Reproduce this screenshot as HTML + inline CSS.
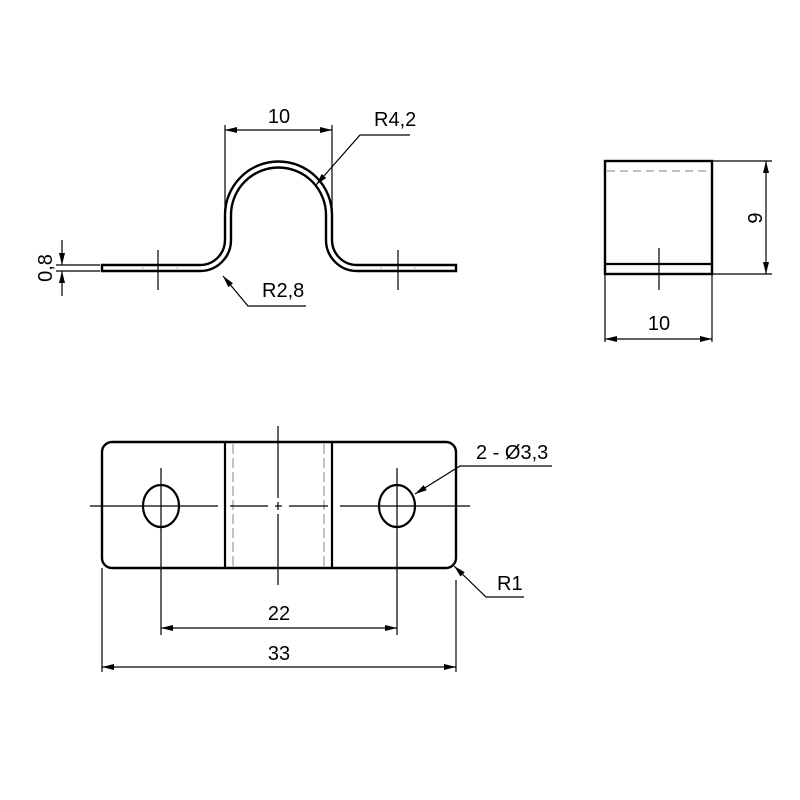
<!DOCTYPE html>
<html><head><style>html,body{margin:0;padding:0;background:#fff}svg{display:block}</style></head>
<body>
<svg width="800" height="800" viewBox="0 0 800 800" xmlns="http://www.w3.org/2000/svg" font-family="Liberation Sans, sans-serif">
<defs>
<marker id="a" viewBox="0 0 12 6" refX="12" refY="3" markerWidth="13" markerHeight="6" markerUnits="userSpaceOnUse" orient="auto-start-reverse"><path d="M0,0 L12,3 L0,6 Z" fill="#000"/></marker>
</defs>
<rect width="800" height="800" fill="#fff"/>
<g fill="none" stroke="#000">
<path stroke-width="2.4" d="M102,265 L200,265 A25,25 0 0 0 225,240 L225,215 A53.5,53.5 0 0 1 332,215 L332,240 A25,25 0 0 0 357,265 L456,265 L456,271 L357,271 A31,31 0 0 1 326,240 L326,215 A47.5,47.5 0 0 0 231,215 L231,240 A31,31 0 0 1 200,271 L102,271 Z"/>
<g stroke-width="1.2">
<line x1="158" y1="250" x2="158" y2="290"/><line x1="398" y1="250" x2="398" y2="290"/>
<line x1="143" y1="266" x2="143" y2="270" stroke="#ccc"/><line x1="177" y1="266" x2="177" y2="270" stroke="#ccc"/>
<line x1="381" y1="266" x2="381" y2="270" stroke="#ccc"/><line x1="415" y1="266" x2="415" y2="270" stroke="#ccc"/>
<line x1="225" y1="125" x2="225" y2="212"/><line x1="332" y1="125" x2="332" y2="212"/>
<line x1="225" y1="130" x2="332" y2="130" marker-start="url(#a)" marker-end="url(#a)"/>
<polyline points="410,135 360,135 316,185" marker-end="url(#a)"/>
<polyline points="306,306 248,306 223,276" marker-end="url(#a)"/>
<line x1="56" y1="265" x2="100" y2="265"/><line x1="56" y1="271" x2="100" y2="271"/>
<line x1="62" y1="240" x2="62" y2="265" marker-end="url(#a)"/>
<line x1="62" y1="296" x2="62" y2="271" marker-end="url(#a)"/>
</g>
<rect x="605" y="161" width="107" height="113" stroke-width="2.4"/>
<line x1="605" y1="264" x2="712" y2="264" stroke-width="2.2"/>
<g stroke-width="1.2">
<line x1="607" y1="171" x2="710" y2="171" stroke="#999" stroke-dasharray="8,5"/>
<line x1="659" y1="248" x2="659" y2="290"/>
<line x1="712" y1="161" x2="772" y2="161"/><line x1="712" y1="274" x2="772" y2="274"/>
<line x1="766" y1="161" x2="766" y2="274" marker-start="url(#a)" marker-end="url(#a)"/>
<line x1="605" y1="274" x2="605" y2="342"/><line x1="712" y1="274" x2="712" y2="342"/>
<line x1="605" y1="339" x2="712" y2="339" marker-start="url(#a)" marker-end="url(#a)"/>
</g>
<rect x="102" y="442" width="354" height="126" rx="10" stroke-width="2.4"/>
<line x1="225" y1="442" x2="225" y2="568" stroke-width="2.2"/>
<line x1="332" y1="442" x2="332" y2="568" stroke-width="2.2"/>
<g stroke-width="1.2">
<line x1="233" y1="444" x2="233" y2="566" stroke="#999" stroke-dasharray="10,4"/>
<line x1="324" y1="444" x2="324" y2="566" stroke="#999" stroke-dasharray="10,4"/>
<line x1="90" y1="506" x2="218" y2="506"/><line x1="340" y1="506" x2="470" y2="506"/>
<line x1="230" y1="506" x2="268" y2="506"/><line x1="275" y1="506" x2="282" y2="506"/><line x1="289" y1="506" x2="328" y2="506"/>
<line x1="278" y1="426" x2="278" y2="498"/><line x1="278" y1="502" x2="278" y2="510"/><line x1="278" y1="514" x2="278" y2="585"/>
<line x1="161" y1="468" x2="161" y2="635"/><line x1="397" y1="468" x2="397" y2="635"/>
<line x1="102" y1="568" x2="102" y2="672"/><line x1="456" y1="580" x2="456" y2="672"/>
<line x1="161" y1="628" x2="397" y2="628" marker-start="url(#a)" marker-end="url(#a)"/>
<line x1="102" y1="667" x2="456" y2="667" marker-start="url(#a)" marker-end="url(#a)"/>
<polyline points="552,466 460,466 415,494" marker-end="url(#a)"/>
<polyline points="524,597 486,597 454,566" marker-end="url(#a)"/>
</g>
<ellipse cx="161" cy="506" rx="18" ry="21" stroke-width="2.2"/>
<ellipse cx="397" cy="506" rx="18" ry="21" stroke-width="2.2"/>
</g>
<g font-size="20" fill="#000">
<text x="279" y="123" text-anchor="middle">10</text>
<text x="374" y="126">R4,2</text>
<text x="262" y="297">R2,8</text>
<text x="52" y="268" text-anchor="middle" transform="rotate(-90 52 268)">0,8</text>
<text x="755" y="218" text-anchor="middle" transform="rotate(-90 755 218)" dy="7">9</text>
<text x="659" y="330" text-anchor="middle">10</text>
<text x="476" y="459">2 - Ø3,3</text>
<text x="497" y="590">R1</text>
<text x="279" y="620" text-anchor="middle">22</text>
<text x="279" y="660" text-anchor="middle">33</text>
</g>
</svg>
</body></html>
